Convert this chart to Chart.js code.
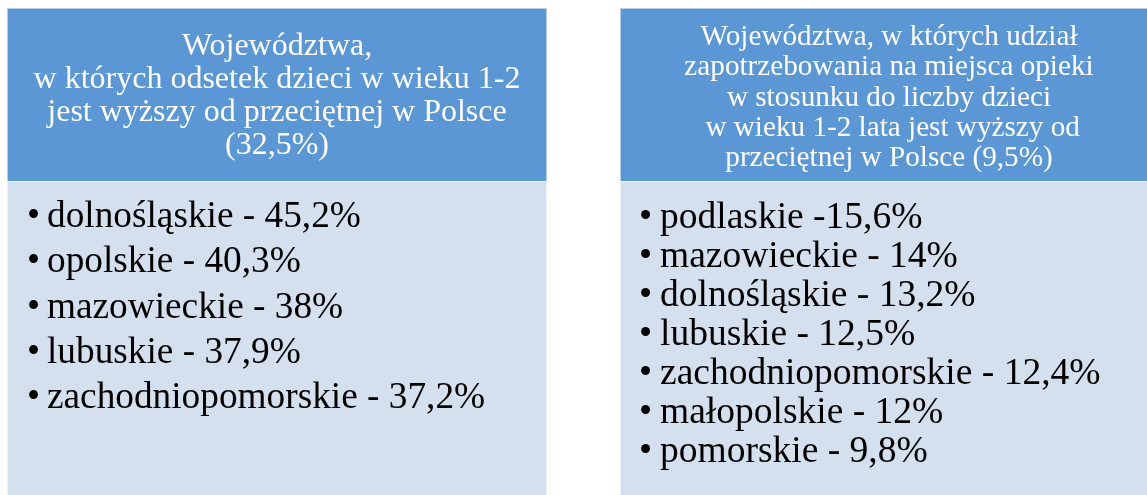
<!DOCTYPE html>
<html>
<head>
<meta charset="utf-8">
<script src="https://cdn.jsdelivr.net/npm/chart.js@4"></script>
<style>
  html, body { margin: 0; padding: 0; background: #fff; }
  #box { width: 1147px; height: 495px; position: relative; }
</style>
</head>
<body>
<div id="box"><canvas id="chart1"></canvas></div>
<script>
// tytuły paneli
const tytulLewy = ["Województwa,", "w których odsetek dzieci w wieku 1-2", "jest wyższy od przeciętnej w Polsce", "(32,5%)"];
const tytulPrawy = ["Województwa, w których udział", "zapotrzebowania na miejsca opieki", "w stosunku do liczby dzieci", " w wieku 1-2 lata jest wyższy od", "przeciętnej w Polsce (9,5%)"];

// lewy panel - odsetek dzieci w wieku 1-2
const wojLewe = ["dolnośląskie", "opolskie", "mazowieckie", "lubuskie", "zachodniopomorskie"];
const odsetekLewe = [45.2, 40.3, 38, 37.9, 37.2];

// prawy panel - udział zapotrzebowania
const wojPrawe = ["podlaskie", "mazowieckie", "dolnośląskie", "lubuskie", "zachodniopomorskie", "małopolskie", "pomorskie"];
const udzialPrawe = [15.6, 14, 13.2, 12.5, 12.4, 12, 9.8];
const myslnikiPrawe = [" -", " - ", " - ", " - ", " - ", " - ", " - "];

const SERIF = "'Liberation Serif', 'Times New Roman', serif";
const fmt = v => String(v).replace(".", ",") + "%";

function rysujPanel(ctx, p) {
    // nagłówek
    ctx.fillStyle = "#5B97D4";
    ctx.fillRect(p.x, p.y, p.w, p.head);
    // treść
    ctx.fillStyle = "#D5E0EF";
    ctx.fillRect(p.x, p.y + p.head, p.w, p.h - p.head);
    // delikatna ramka
    ctx.strokeStyle = "rgba(255,255,255,0.55)";
    ctx.lineWidth = 1;
    ctx.strokeRect(p.x + 0.5, p.y + 0.5, p.w - 1, p.h);
    ctx.beginPath();
    ctx.moveTo(p.x, p.y + p.head + 0.5);
    ctx.lineTo(p.x + p.w, p.y + p.head + 0.5);
    ctx.stroke();

    ctx.fillStyle = "#fff";
    ctx.font = p.titleSize + "px " + SERIF;
    ctx.textAlign = "center";
    ctx.textBaseline = "alphabetic";
    p.title.forEach((t, i) => ctx.fillText(t, p.cx, p.titleY + i * p.titleStep));

    ctx.fillStyle = "#000";
    ctx.font = p.itemSize + "px " + SERIF;
    ctx.textAlign = "left";
    p.items.forEach((t, i) => {
        const y = p.itemY + i * p.itemStep;
        ctx.fillText("•", p.bulletX, y);
        ctx.fillText(t, p.textX, y);
    });
}

const panele = {
    id: "panele",
    afterDraw(chart) {
        const ctx = chart.ctx;
        ctx.save();
        rysujPanel(ctx, {
            x: 7, y: 8, w: 540, h: 490, head: 173, cx: 277,
            title: tytulLewy, titleSize: 32, titleY: 55, titleStep: 33,
            items: wojLewe.map((w, i) => w + " - " + fmt(odsetekLewe[i])),
            itemSize: 37.3, itemY: 227, itemStep: 45.3, bulletX: 27, textX: 47
        });
        rysujPanel(ctx, {
            x: 620, y: 8, w: 540, h: 490, head: 173, cx: 889,
            title: tytulPrawy, titleSize: 29.2, titleY: 45, titleStep: 30.3,
            items: wojPrawe.map((w, i) => w + myslnikiPrawe[i] + fmt(udzialPrawe[i])),
            itemSize: 37.5, itemY: 228, itemStep: 39, bulletX: 639, textX: 660
        });
        ctx.restore();
    }
};

new Chart("chart1", {
    type: "bar",
    data: { labels: [], datasets: [] },
    options: {
        responsive: true,
        maintainAspectRatio: false,
        animation: false,
        layout: { padding: 0 },
        plugins: { legend: { display: false }, tooltip: { enabled: false } },
        scales: { x: { display: false }, y: { display: false } }
    },
    plugins: [panele]
});
</script>
</body>
</html>
